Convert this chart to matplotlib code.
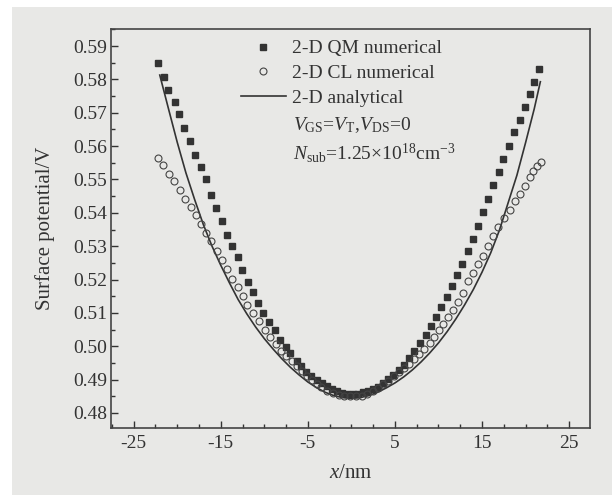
import matplotlib
matplotlib.use('Agg')
import matplotlib.pyplot as plt
from matplotlib.patches import Rectangle
from matplotlib.ticker import MultipleLocator, FixedLocator

# 2-D QM numerical (filled squares)
qm_x = [-22.21, -21.55, -21.06, -20.29, -19.79, -19.22, -18.48, -17.95, -17.26, -16.72,
        -16.14, -15.57, -14.85, -14.23, -13.74, -12.97, -12.55, -11.86, -11.29, -10.75,
        -10.14, -9.45, -8.76, -8.22, -7.56, -6.99, -6.30, -5.80, -5.23, -4.66,
        -4.00, -3.39, -2.85, -2.25, -1.65, -1.05, -0.45, 0.15, 0.75, 1.35,
        1.95, 2.50, 3.08, 3.66, 4.23, 4.80, 5.49, 6.07, 6.64, 7.22,
        7.87, 8.56, 9.10, 9.71, 10.29, 10.94, 11.59, 12.16, 12.74, 13.36,
        14.00, 14.58, 15.08, 15.72, 16.23, 16.95, 17.45, 18.14, 18.71, 19.37,
        19.94, 20.52, 21.01, 21.59]
qm_y = [0.5848, 0.5808, 0.5768, 0.5733, 0.5696, 0.5655, 0.5616, 0.5572, 0.5538, 0.5501,
        0.5454, 0.5414, 0.5374, 0.5334, 0.5301, 0.5267, 0.5229, 0.5193, 0.5163, 0.5130,
        0.5100, 0.5073, 0.5050, 0.5020, 0.4999, 0.4980, 0.4957, 0.4940, 0.4922, 0.4912,
        0.4900, 0.4890, 0.4880, 0.4872, 0.4865, 0.4860, 0.4857, 0.4856, 0.4858, 0.4862,
        0.4867, 0.4872, 0.4878, 0.4890, 0.4902, 0.4914, 0.4930, 0.4945, 0.4965, 0.4987,
        0.5010, 0.5035, 0.5060, 0.5089, 0.5119, 0.5149, 0.5181, 0.5213, 0.5248, 0.5285,
        0.5321, 0.5361, 0.5403, 0.5441, 0.5483, 0.5521, 0.5562, 0.5600, 0.5643, 0.5678,
        0.5718, 0.5756, 0.5793, 0.5831]

# 2-D CL numerical (open circles)
cl_x = [-22.16, -21.63, -20.98, -20.32, -19.71, -19.10, -18.45, -17.89, -17.26, -16.64,
        -16.07, -15.38, -14.89, -14.23, -13.66, -13.01, -12.50, -11.98, -11.29, -10.60,
        -9.94, -9.29, -8.68, -8.10, -7.45, -6.84, -6.30, -5.69, -5.15, -4.57,
        -4.00, -3.43, -2.78, -2.16, -1.47, -0.83, -0.17, 0.48, 1.17, 1.80,
        2.45, 3.05, 3.66, 4.23, 4.92, 5.49, 6.07, 6.64, 7.22, 7.79,
        8.37, 9.02, 9.52, 10.09, 10.55, 11.13, 11.63, 12.21, 12.80, 13.43,
        14.00, 14.58, 15.08, 15.66, 16.30, 16.87, 17.57, 18.22, 18.79, 19.37,
        19.94, 20.52, 20.90, 21.35, 21.82]
cl_y = [0.5564, 0.5542, 0.5516, 0.5495, 0.5469, 0.5442, 0.5418, 0.5392, 0.5366, 0.5341,
        0.5316, 0.5286, 0.5259, 0.5231, 0.5203, 0.5178, 0.5150, 0.5124, 0.5101, 0.5075,
        0.5050, 0.5027, 0.5007, 0.4985, 0.4970, 0.4955, 0.4940, 0.4925, 0.4912, 0.4900,
        0.4887, 0.4877, 0.4867, 0.4860, 0.4854, 0.4852, 0.4850, 0.4850, 0.4852, 0.4858,
        0.4866, 0.4874, 0.4886, 0.4897, 0.4910, 0.4922, 0.4935, 0.4948, 0.4963, 0.4977,
        0.4992, 0.5010, 0.5028, 0.5048, 0.5067, 0.5088, 0.5110, 0.5134, 0.5160, 0.5196,
        0.5221, 0.5246, 0.5271, 0.5301, 0.5331, 0.5357, 0.5384, 0.5409, 0.5434, 0.5457,
        0.5481, 0.5507, 0.5524, 0.5539, 0.5552]

# 2-D analytical (solid line)
an_x = [-22, -21, -20, -19, -18, -17, -16, -15, -14, -13, -12, -11, -10, -9, -8, -7, -6,
        -5, -4, -3, -2, -1, 0, 1, 2, 3, 4, 5, 6, 7, 8, 9, 10, 11, 12, 13, 14, 15, 16,
        17, 18, 19, 20, 21, 21.7]
an_y = [0.5813, 0.5712, 0.5612, 0.5520, 0.5440, 0.5365, 0.5300, 0.5243, 0.5190, 0.5140,
        0.5097, 0.5058, 0.5023, 0.4992, 0.4963, 0.4937, 0.4914, 0.4893, 0.4876, 0.4862,
        0.4852, 0.4846, 0.4844, 0.4846, 0.4852, 0.4862, 0.4875, 0.4890, 0.4908, 0.4929,
        0.4953, 0.4980, 0.5010, 0.5044, 0.5082, 0.5124, 0.5170, 0.5222, 0.5280, 0.5348,
        0.5430, 0.5512, 0.5610, 0.5712, 0.5793]

x_ticks = [-25, -15, -5, 5, 15, 25]
y_ticks = [0.48, 0.49, 0.50, 0.51, 0.52, 0.53, 0.54, 0.55, 0.56, 0.57, 0.58, 0.59]

plt.rcParams['font.family'] = ['Liberation Serif', 'DejaVu Serif']
plt.rcParams['mathtext.fontset'] = 'custom'
plt.rcParams['mathtext.rm'] = 'Liberation Serif'
plt.rcParams['mathtext.it'] = 'Liberation Serif:italic'
plt.rcParams['axes.unicode_minus'] = False

ink = '#333333'
paper = '#e8e8e6'

fig = plt.figure(figsize=(6.12, 4.95), dpi=100, facecolor='white')
fig.patches.append(Rectangle((12 / 612, 0), 1, 1 - 7 / 495, transform=fig.transFigure,
                             facecolor=paper, edgecolor='none', zorder=-10))
ax = fig.add_axes([111 / 612, 67 / 495, 479 / 612, 399 / 495])
ax.set_facecolor(paper)

ax.plot(qm_x, qm_y, linestyle='none', marker='s', markersize=4.6, color=ink,
        label='2-D QM numerical', zorder=3)
ax.plot(cl_x, cl_y, linestyle='none', marker='o', markersize=5, markerfacecolor='none',
        markeredgecolor='#444444', markeredgewidth=0.8, label='2-D CL numerical', zorder=4)
ax.plot(an_x, an_y, color=ink, linewidth=1.2, label='2-D analytical', zorder=2)

ax.set_xlim(-27.6, 27.4)
ax.set_ylim(0.4755, 0.5951)
ax.xaxis.set_major_locator(FixedLocator(x_ticks))
ax.xaxis.set_minor_locator(MultipleLocator(2.5))
ax.yaxis.set_major_locator(FixedLocator(y_ticks))
ax.yaxis.set_minor_locator(MultipleLocator(0.005))
ax.set_yticklabels(['%.2f' % v for v in y_ticks])

ax.tick_params(which='both', direction='in', colors=ink, labelsize=14, top=False, right=False)
ax.tick_params(which='major', length=5, width=1)
ax.tick_params(which='minor', length=3, width=1)
ax.tick_params(axis='x', pad=5)
ax.tick_params(axis='y', pad=3)
for s in ax.spines.values():
    s.set_color('#444444')
    s.set_linewidth(1.2)

ax.set_xlabel(r'$x$/nm', fontsize=15, color=ink, labelpad=9)
ax.set_ylabel('Surface potential/V', fontsize=15, color=ink, labelpad=13)

leg = ax.legend(loc='upper left', bbox_to_anchor=(0.239, 1.012), frameon=False, fontsize=14,
                handlelength=2.3, handletextpad=0.3, labelspacing=0.36, borderaxespad=0.4,
                labelcolor=ink)

ax.text(0.380, 0.747, r'$V_{\mathrm{GS}}$=$V_{\mathrm{T}}$,$V_{\mathrm{DS}}$=0',
        transform=ax.transAxes, fontsize=14, color=ink, va='baseline')
ax.text(0.380, 0.674, r'$N_{\mathrm{sub}}$=1.25×10$^{18}$cm$^{-3}$',
        transform=ax.transAxes, fontsize=14, color=ink, va='baseline')

fig.savefig('out.png', dpi=100, facecolor=fig.get_facecolor())
